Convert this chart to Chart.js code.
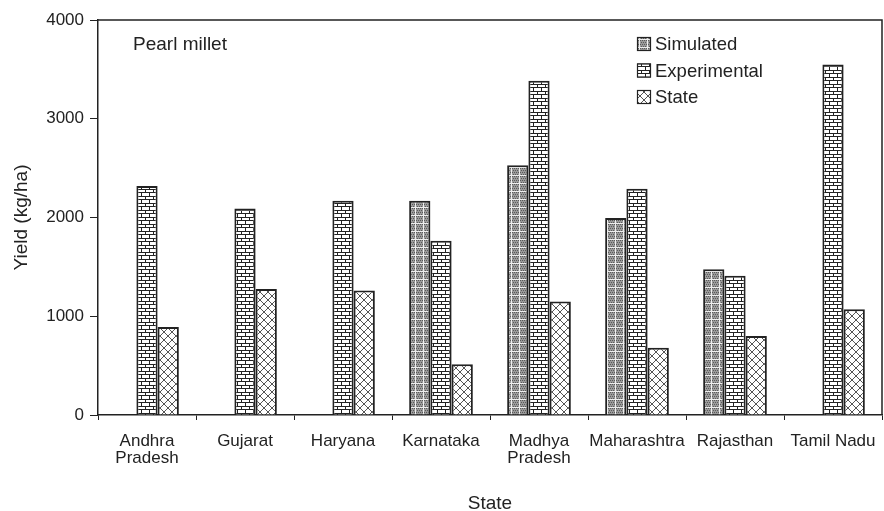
<!DOCTYPE html>
<html>
<head>
<meta charset="utf-8">
<script src="https://cdn.jsdelivr.net/npm/chart.js@4"></script>
<style>
  html, body { margin: 0; padding: 0; background: #fff; }
  #wrap { width: 884px; height: 511px; position: relative; }
</style>
</head>
<body>
<div id="wrap"><canvas id="yieldChart"></canvas></div>
<script>
// Data
const states = [['Andhra', 'Pradesh'], 'Gujarat', 'Haryana', 'Karnataka', ['Madhya', 'Pradesh'], 'Maharashtra', 'Rajasthan', 'Tamil Nadu'];
const simulated = [null, null, null, 2170, 2530, 1995, 1475, null];
const experimental = [2320, 2090, 2170, 1765, 3385, 2290, 1410, 3550];
const stateYield = [890, 1275, 1260, 515, 1150, 680, 800, 1070];
const yTicks = [0, 1000, 2000, 3000, 4000];

const FONT = '"Liberation Sans", Arial, sans-serif';
const INK = '#222';

// Fill patterns
function makeTile(w, h, draw) {
    const c = document.createElement('canvas');
    c.width = w; c.height = h;
    const g = c.getContext('2d');
    draw(g, w, h);
    return document.createElement('canvas').getContext('2d').createPattern(c, 'repeat');
}

const simPattern = makeTile(8, 8, function (g) {
    g.fillStyle = '#9a9a9a';
    g.fillRect(0, 0, 8, 8);
    g.fillStyle = '#5a5a5a';
    for (let y = 0; y < 7; y += 2) for (let x = (y / 2) % 2; x < 7; x += 2) g.fillRect(x, y, 1, 1);
    g.fillStyle = '#eee';
    g.fillRect(7, 0, 1, 8);
    g.fillRect(0, 7, 8, 1);
});

const expPattern = makeTile(8, 7, function (g) {
    g.fillStyle = '#fff';
    g.fillRect(0, 0, 8, 7);
    g.fillStyle = '#222';
    g.fillRect(0, 0, 8, 1);
    g.fillRect(0, 3, 8, 1);
    g.fillRect(1, 1, 1, 2);
    g.fillRect(5, 4, 1, 3);
});

const statePattern = makeTile(8, 8, function (g) {
    g.fillStyle = '#fff';
    g.fillRect(0, 0, 8, 8);
    g.strokeStyle = '#555';
    g.lineWidth = 1;
    g.beginPath();
    g.moveTo(0, 0); g.lineTo(8, 8);
    g.moveTo(8, 0); g.lineTo(0, 8);
    g.stroke();
});

// Frame, inner title and legend
const extras = {
    id: 'extras',
    afterDraw(chart) {
        const ctx = chart.ctx;
        const a = chart.chartArea;
        ctx.save();
        ctx.strokeStyle = INK;
        ctx.lineWidth = 1.5;
        ctx.beginPath();
        ctx.moveTo(a.left, a.top);
        ctx.lineTo(a.right, a.top);
        ctx.lineTo(a.right, a.bottom);
        ctx.stroke();

        ctx.fillStyle = INK;
        ctx.font = '19px ' + FONT;
        ctx.textBaseline = 'middle';
        ctx.fillText('Pearl millet', 133, 45);

        ctx.font = '18.5px ' + FONT;
        chart.data.datasets.forEach(function (ds, i) {
            const y = 44 + i * 26.5;
            ctx.fillStyle = ds.backgroundColor;
            ctx.fillRect(637, y - 7, 14, 14);
            ctx.strokeStyle = INK;
            ctx.lineWidth = 1.2;
            ctx.strokeRect(637.5, y - 6.5, 13, 13);
            ctx.fillStyle = INK;
            ctx.fillText(ds.label, 655, y + 1);
        });
        ctx.restore();
    }
};

new Chart(document.getElementById('yieldChart'), {
    type: 'bar',
    data: {
        labels: states,
        datasets: [
            { label: 'Simulated', data: simulated, backgroundColor: simPattern },
            { label: 'Experimental', data: experimental, backgroundColor: expPattern },
            { label: 'State', data: stateYield, backgroundColor: statePattern }
        ]
    },
    options: {
        responsive: true,
        maintainAspectRatio: false,
        animation: false,
        layout: { padding: { top: 20, right: 2, left: 0, bottom: 0 } },
        datasets: {
            bar: {
                borderColor: INK,
                borderWidth: 2,
                categoryPercentage: 0.65,
                barPercentage: 1.0
            }
        },
        plugins: {
            legend: { display: false },
            tooltip: { enabled: false }
        },
        scales: {
            x: {
                offset: true,
                grid: {
                    offset: true,
                    drawOnChartArea: false,
                    drawTicks: true,
                    tickLength: 5,
                    color: INK
                },
                border: { color: INK, width: 1.5 },
                ticks: {
                    color: INK,
                    font: { family: FONT, size: 17, lineHeight: 1.05 },
                    maxRotation: 0,
                    autoSkip: false,
                    padding: 12
                },
                title: {
                    display: true,
                    text: 'State',
                    color: INK,
                    font: { family: FONT, size: 19 },
                    padding: { top: 0, bottom: -4 }
                },
                afterFit(scale) {
                    scale.height = 96;
                    scale.paddingLeft = 0;
                    scale.paddingRight = 0;
                }
            },
            y: {
                min: 0,
                max: 4000,
                afterBuildTicks(scale) { scale.ticks = yTicks.map(v => ({ value: v })); },
                grid: {
                    drawOnChartArea: false,
                    drawTicks: true,
                    tickLength: 8,
                    color: INK
                },
                border: { color: INK, width: 1.5 },
                ticks: {
                    color: INK,
                    font: { family: FONT, size: 17 },
                    padding: 6,
                    callback: v => String(v)
                },
                title: {
                    display: true,
                    text: 'Yield (kg/ha)',
                    color: INK,
                    font: { family: FONT, size: 19 },
                    padding: { top: 10, bottom: 0 }
                },
                afterFit(scale) { scale.width = 98; }
            }
        }
    },
    plugins: [extras]
});
</script>
</body>
</html>
